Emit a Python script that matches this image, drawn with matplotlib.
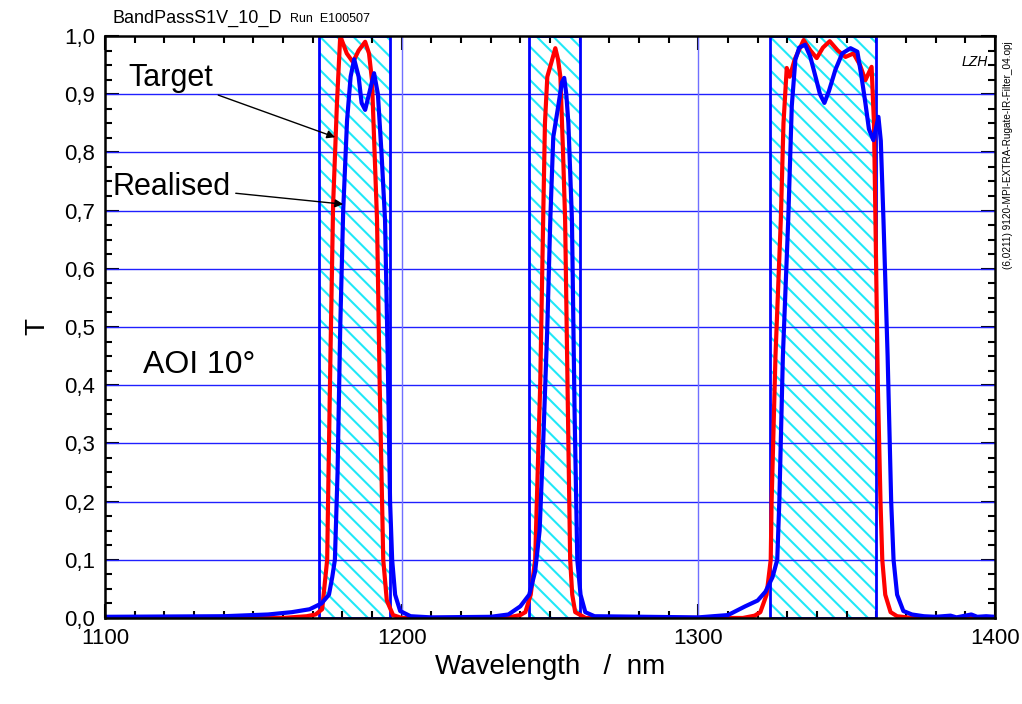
import matplotlib
matplotlib.use('Agg')
import matplotlib.pyplot as plt
from matplotlib.patches import Rectangle
from matplotlib.ticker import MultipleLocator, FuncFormatter

plt.rcParams['font.family'] = ['Liberation Sans', 'DejaVu Sans']
plt.rcParams['hatch.linewidth'] = 1.5

# pass bands (nm)
band_lo = [1172, 1243, 1324]
band_hi = [1196, 1260, 1360]

# Target (red)
wl_target = [1100, 1160, 1168, 1171, 1173.2, 1174.9, 1175.2, 1176.0, 1176.9, 1178.2, 1179.3,
             1181.5, 1183.6, 1185.5, 1187.7, 1189, 1190, 1191.7, 1192.6, 1193.4, 1193.8,
             1195, 1197.1, 1200,
             1235, 1240, 1241.7, 1243.5, 1245, 1246.7, 1247.7, 1248.3, 1249.1, 1250.5, 1251.8,
             1252.7, 1253.5, 1254.4, 1255.1, 1256.2, 1256.8, 1257.5, 1258.5, 1262,
             1315, 1319, 1320.9, 1323, 1324.4, 1324.7, 1326, 1327.8, 1328.7, 1329.8, 1330.8,
             1332.5, 1335.5, 1337.8, 1339.9, 1342, 1344.3, 1347, 1349.6, 1352.3, 1354.5,
             1356.3, 1358.4, 1359.2, 1359.7, 1360.5, 1361.4, 1362.0, 1363, 1364.8, 1367,
             1372, 1400]
t_target = [0, 0, 0.003, 0.006, 0.015, 0.1, 0.2, 0.45, 0.71, 0.885, 1.0,
            0.97, 0.955, 0.975, 0.99, 0.97, 0.924, 0.684, 0.4, 0.2, 0.1,
            0.03, 0.005, 0,
            0, 0.005, 0.01, 0.04, 0.1, 0.4, 0.684, 0.85, 0.93, 0.955, 0.979,
            0.96, 0.93, 0.8, 0.684, 0.3, 0.1, 0.04, 0.01, 0,
            0, 0.004, 0.01, 0.04, 0.1, 0.2, 0.45, 0.684, 0.85, 0.945, 0.93,
            0.96, 0.993, 0.975, 0.962, 0.98, 0.991, 0.975, 0.964, 0.97, 0.95,
            0.924, 0.947, 0.85, 0.684, 0.4, 0.2, 0.1, 0.04, 0.01, 0.003,
            0, 0]

# Realised (blue)
wl_real = [1100, 1140, 1155, 1163, 1169, 1173, 1175.5, 1176.6, 1177.5, 1178.4, 1179.3,
           1180.3, 1181.6, 1182.8, 1184.0, 1185.5, 1186.5, 1187.7, 1189, 1190.7, 1192,
           1193.2, 1194.4, 1195.3, 1196.1, 1196.8, 1197.8, 1199.5, 1203, 1210,
           1230, 1236, 1240, 1243, 1245, 1246.5, 1247.7, 1249.1, 1250.1, 1251.1, 1252.8,
           1254.0, 1254.8, 1255.5, 1256.2, 1257.4, 1258.3, 1259.2, 1260.3, 1261.9, 1265,
           1300, 1310, 1315.8, 1320, 1322.6, 1325, 1326.6, 1327.3, 1328.5, 1330.3, 1331.5,
           1332.7, 1334, 1336.0, 1337.7, 1339.5, 1341, 1342.5, 1344, 1346.2, 1348.5,
           1351.3, 1353.6, 1355, 1356.3, 1357.5, 1359.0, 1360.7, 1361.5, 1362.4, 1363.8,
           1365.0, 1365.8, 1367, 1369.1, 1372, 1376, 1380, 1385, 1387, 1392, 1394,
           1397, 1400]
t_real = [0.002, 0.003, 0.006, 0.01, 0.015, 0.025, 0.04, 0.07, 0.1, 0.25, 0.5,
          0.70, 0.855, 0.93, 0.96, 0.93, 0.885, 0.873, 0.9, 0.936, 0.9,
          0.8, 0.684, 0.45, 0.2, 0.1, 0.04, 0.012, 0.003, 0.001,
          0.002, 0.006, 0.02, 0.04, 0.08, 0.15, 0.3, 0.5, 0.684, 0.826, 0.88,
          0.92, 0.928, 0.9, 0.85, 0.684, 0.35, 0.1, 0.04, 0.01, 0.003,
          0.001, 0.005, 0.02, 0.03, 0.045, 0.07, 0.1, 0.2, 0.45, 0.684, 0.88,
          0.959, 0.98, 0.985, 0.965, 0.93, 0.9, 0.885, 0.905, 0.942, 0.97,
          0.979, 0.973, 0.93, 0.885, 0.84, 0.821, 0.861, 0.82, 0.684, 0.45,
          0.2, 0.1, 0.04, 0.012, 0.006, 0.003, 0.002, 0.004, 0.001, 0.006, 0.002,
          0.003, 0.002]

fig = plt.figure(figsize=(10.22, 7.04), dpi=100)
ax = fig.add_axes([0.1027, 0.1222, 0.8709, 0.8267])

# hatched pass bands
for lo, hi in zip(band_lo, band_hi):
    ax.add_patch(Rectangle((lo, 0), hi - lo, 1, fill=False, hatch='\\\\',
                           edgecolor='#20e8f8', lw=0, zorder=1))
    ax.add_patch(Rectangle((lo, 0), hi - lo, 1, fill=False,
                           edgecolor='#0000ff', lw=2, zorder=3))

# grid
for y in [0.1, 0.2, 0.3, 0.4, 0.5, 0.6, 0.7, 0.8, 0.9]:
    ax.axhline(y, color='#2020ff', lw=1, zorder=2)
for x in [1200, 1300]:
    ax.axvline(x, color='#7070ff', lw=1, zorder=2)

ax.plot(wl_target, t_target, color='#ff0000', lw=3, zorder=4)
ax.plot(wl_real, t_real, color='#0000ff', lw=3, zorder=5)

ax.set_xlim(1100, 1400)
ax.set_ylim(0, 1)
ax.xaxis.set_major_locator(MultipleLocator(100))
ax.xaxis.set_minor_locator(MultipleLocator(10))
ax.yaxis.set_major_locator(MultipleLocator(0.1))
ax.yaxis.set_minor_locator(MultipleLocator(0.025))
ax.yaxis.set_major_formatter(FuncFormatter(lambda v, _: f'{v:.1f}'.replace('.', ',')))
ax.tick_params(which='both', direction='in', top=True, right=True, labelsize=16, width=1.5)
ax.tick_params(which='major', length=10, pad=7)
ax.tick_params(which='minor', length=5)
for s in ax.spines.values():
    s.set_linewidth(1.8)
    s.set_zorder(6)

ax.set_xlabel('Wavelength   /  nm', fontsize=20, labelpad=4)
ax.set_ylabel('T', fontsize=20, labelpad=10)

ax.annotate('Target', xy=(1177.6, 0.826), xytext=(1107.8, 0.928), fontsize=22,
            ha='left', va='center',
            arrowprops=dict(arrowstyle='-|>', color='k', lw=1, mutation_scale=12,
                            shrinkA=2, shrinkB=0), zorder=7)
ax.annotate('Realised', xy=(1180.3, 0.711), xytext=(1102.4, 0.741), fontsize=22,
            ha='left', va='center',
            arrowprops=dict(arrowstyle='-|>', color='k', lw=1, mutation_scale=12,
                            shrinkA=2, shrinkB=0), zorder=7)
ax.text(1112.8, 0.435, 'AOI 10°', fontsize=23, ha='left', va='center')
ax.text(0.992, 0.955, 'LZH', fontsize=10, style='italic', ha='right', va='center',
        transform=ax.transAxes)

fig.text(112 / 1022, 1 - 18 / 704, 'BandPassS1V_10_D', fontsize=13, ha='left', va='center')
fig.text(290 / 1022, 1 - 19 / 704, 'Run  E100507', fontsize=9, ha='left', va='center')
fig.text(1008 / 1022, 1 - 155 / 704, '(6,0211) 9120-MPI-EXTRA-Rugate-IR-Filter_04.opj',
         fontsize=7.2, rotation=90, ha='center', va='center')

fig.savefig('out.png', dpi=100)
